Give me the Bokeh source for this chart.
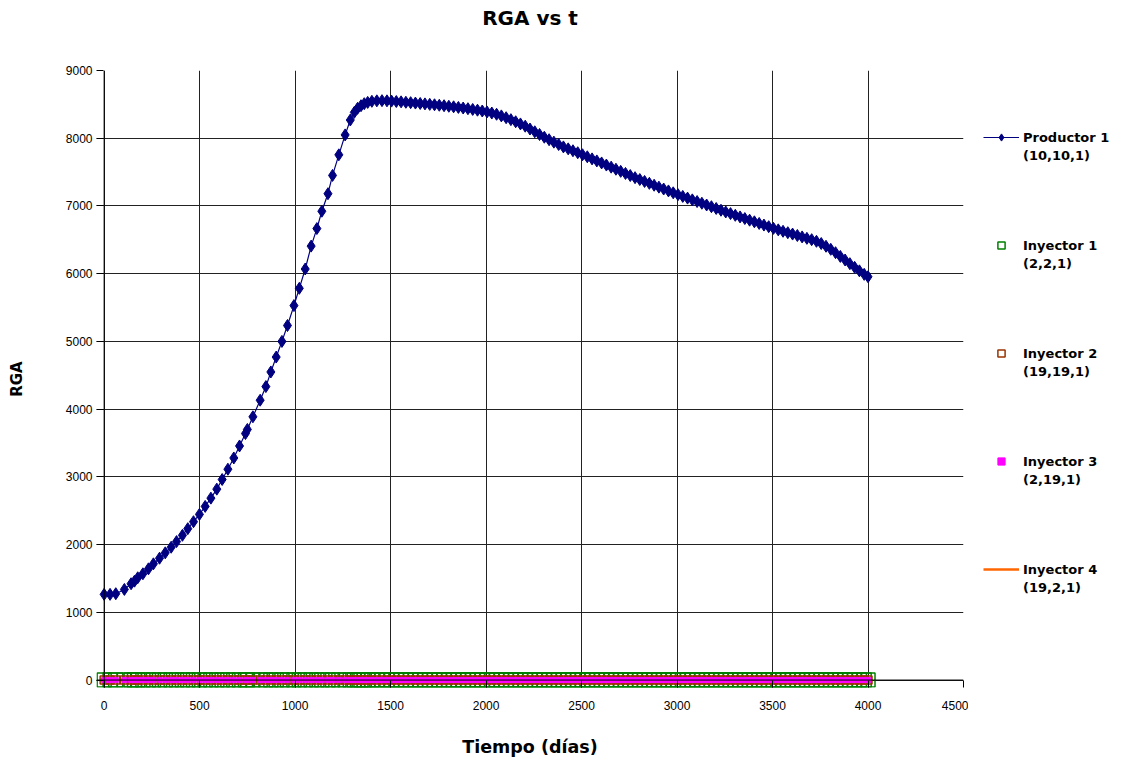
from bokeh.plotting import figure
from bokeh.models import Range1d, Span, Legend, LegendItem, FixedTicker, Title
from bokeh.layouts import row
from bokeh.embed import file_html
from bokeh.resources import INLINE

# ---- data ----
t = [0, 31, 61, 106, 141, 159, 176, 203, 232, 258, 290, 320, 351, 379, 410, 438, 468, 499,
     529, 559, 590, 618, 648, 679, 709, 740, 750, 779, 817, 847, 873, 901, 931, 960, 994,
     1022, 1053, 1084, 1114, 1140, 1172, 1196, 1229, 1262, 1289, 1310, 1327, 1345, 1362,
     1380, 1402, 1428, 1455, 1481, 1505, 1530, 1555, 1580, 1605, 1630, 1655, 1680, 1705,
     1730, 1755, 1780, 1805, 1830, 1855, 1880, 1905, 1930, 1955, 1980, 2005, 2030, 2055,
     2080, 2105, 2130, 2155, 2180, 2205, 2230, 2255, 2280, 2305, 2330, 2355, 2380, 2405,
     2430, 2455, 2480, 2505, 2530, 2555, 2580, 2605, 2630, 2655, 2680, 2705, 2730, 2755,
     2780, 2805, 2830, 2855, 2880, 2905, 2930, 2955, 2980, 3005, 3030, 3055, 3080, 3105,
     3130, 3155, 3180, 3205, 3230, 3255, 3280, 3305, 3330, 3355, 3380, 3405, 3430, 3455,
     3480, 3505, 3530, 3555, 3580, 3605, 3630, 3655, 3680, 3705, 3730, 3755, 3780, 3805,
     3830, 3855, 3880, 3905, 3930, 3955, 3980, 4000]
rga_prod1 = [1265, 1265, 1275, 1338, 1422, 1460, 1510, 1569, 1642, 1716, 1799, 1878, 1961,
             2044, 2137, 2235, 2338, 2446, 2564, 2686, 2819, 2961, 3113, 3279, 3456, 3640,
             3700, 3887, 4132, 4333, 4549, 4769, 5000, 5235, 5529, 5784, 6069, 6407, 6666,
             6922, 7181, 7451, 7755, 8049, 8269, 8382, 8441, 8480, 8510, 8529, 8545, 8552,
             8555, 8552, 8548, 8542, 8537, 8531, 8525, 8519, 8513, 8507, 8500, 8494, 8487,
             8480, 8472, 8464, 8455, 8446, 8436, 8425, 8414, 8402, 8388, 8372, 8354, 8330,
             8303, 8274, 8243, 8211, 8178, 8136, 8095, 8055, 8015, 7978, 7942, 7907, 7872,
             7843, 7815, 7786, 7756, 7726, 7695, 7665, 7635, 7604, 7573, 7542, 7511, 7480,
             7449, 7418, 7390, 7362, 7334, 7306, 7278, 7250, 7222, 7194, 7167, 7141, 7116,
             7090, 7065, 7040, 7014, 6989, 6963, 6937, 6911, 6887, 6862, 6838, 6814, 6790,
             6766, 6742, 6718, 6694, 6669, 6647, 6626, 6605, 6585, 6564, 6543, 6522, 6502,
             6478, 6445, 6405, 6360, 6310, 6255, 6202, 6148, 6094, 6042, 5990, 5955]
rga_iny1 = [0] * len(t)
rga_iny2 = [0] * len(t)
rga_iny3 = [0] * len(t)
rga_iny4 = [0] * len(t)

x_ticks = [0, 500, 1000, 1500, 2000, 2500, 3000, 3500, 4000, 4500]
y_ticks = [0, 1000, 2000, 3000, 4000, 5000, 6000, 7000, 8000, 9000]

names = ["Productor 1", "Inyector 1", "Inyector 2", "Inyector 3", "Inyector 4"]
cells = ["(10,10,1)", "(2,2,1)", "(19,19,1)", "(2,19,1)", "(19,2,1)"]

BOLD_FONT = "DejaVu Sans"
TICK_FONT = "Liberation Sans"

# styles
PROD = "#000080"
INY1 = dict(marker="square", fill_color=None, line_color="#008000", line_width=1.5)
INY2 = dict(marker="square", size=8, fill_color=None, line_color="#993300", line_width=1.5)
INY3 = dict(marker="square", size=5, fill_color="#FF00FF", line_color="#FF00FF")
INY4 = dict(line_color="#FF6600", line_width=2.5)

H = 760
p = figure(width=968, height=H, output_backend="svg", toolbar_location=None,
           x_range=Range1d(-40, 4500), y_range=Range1d(-110, 9000),
           min_border_left=96, min_border_top=68, min_border_right=5,
           min_border_bottom=73)
p.outline_line_color = None
p.background_fill_color = "white"
p.title.text = ""
p.title.standoff = 0
p.title.text_font_size = "1px"

# spacer title (closest to the plot) and the real title above it
p.add_layout(Title(text=" ", text_font=BOLD_FONT, text_font_size="20px",
                   text_font_style="bold", standoff=8, vertical_align="top"), "above")
p.add_layout(Title(text="RGA vs t", text_font=BOLD_FONT, text_font_size="20px",
                   text_font_style="bold", text_color="black", align="center",
                   standoff=10, vertical_align="top"), "above")

for ax in (p.xaxis[0], p.yaxis[0]):
    ax.axis_line_color = None
    ax.major_tick_in = 7
    ax.major_tick_out = 0
    ax.minor_tick_line_color = None
    ax.major_tick_line_color = "black"
    ax.major_label_text_font = TICK_FONT
    ax.major_label_text_font_size = "12px"
    ax.major_label_text_color = "black"
    ax.axis_label_text_font = BOLD_FONT
    ax.axis_label_text_font_style = "bold"
    ax.axis_label_text_color = "black"

p.xaxis[0].axis_label_text_font_size = "17.5px"
p.yaxis[0].axis_label_text_font_size = "15px"
p.xaxis[0].ticker = FixedTicker(ticks=x_ticks)
p.yaxis[0].ticker = FixedTicker(ticks=y_ticks)
p.xaxis[0].axis_label = "Tiempo (días)"
p.yaxis[0].axis_label = "RGA"
p.xaxis[0].major_label_standoff = 13
p.yaxis[0].major_label_standoff = 4
p.xaxis[0].axis_label_standoff = 24
p.yaxis[0].axis_label_standoff = 37

p.xgrid[0].grid_line_color = "#222222"
p.ygrid[0].grid_line_color = "#222222"
p.xgrid[0].grid_line_width = 1
p.ygrid[0].grid_line_width = 1

p.add_layout(Span(location=0, dimension="width", line_color="black", line_width=1))
p.add_layout(Span(location=0, dimension="height", line_color="black", line_width=1))

p.line(t, rga_iny4, **INY4)
p.scatter(t, rga_iny1, size=14, **INY1)
p.scatter(t, rga_iny2, **INY2)
p.scatter(t, rga_iny3, **INY3)
p.line(t, rga_prod1, line_color=PROD, line_width=1.2)
p.scatter(t, rga_prod1, marker="diamond", size=12, fill_color=PROD, line_color=PROD)

# ---- legend panel (separate figure on the right; its ranges keep the data out of view,
#      the renderers only serve as legend keys) ----
lg = figure(width=150, height=H, output_backend="svg", toolbar_location=None,
            x_range=Range1d(-20000, -10000), y_range=Range1d(-20000, -10000),
            x_axis_type=None, y_axis_type=None,
            min_border_left=0, min_border_right=0, min_border_top=0, min_border_bottom=0)
lg.outline_line_color = None
lg.xgrid.visible = False
lg.ygrid.visible = False
lg.title.text = ""
lg.title.standoff = 0
lg.title.text_font_size = "1px"

k_line = lg.line(t, rga_prod1, line_color=PROD, line_width=1.2)
k_diam = lg.scatter(t, rga_prod1, marker="diamond", size=10, fill_color=PROD, line_color=PROD)
k1 = lg.scatter(t, rga_iny1, size=11, **INY1)
k2 = lg.scatter(t, rga_iny2, **INY2)
k3 = lg.scatter(t, rga_iny3, **INY3)
k4 = lg.line(t, rga_iny4, **INY4)

series_renderers = [[k_line, k_diam], [k1], [k2], [k3], [k4]]
items = []
for i, (nm, cell, rs) in enumerate(zip(names, cells, series_renderers)):
    items.append(LegendItem(label=nm, renderers=rs))
    items.append(LegendItem(label=cell, renderers=[]))
    if i < len(names) - 1:
        for _ in range(4):
            items.append(LegendItem(label=" ", renderers=[]))

legend = Legend(items=items, location=(15, 91))
legend.label_text_font = BOLD_FONT
legend.label_text_font_size = "13px"
legend.label_text_font_style = "bold"
legend.label_text_color = "black"
legend.border_line_color = None
legend.background_fill_alpha = 0
legend.glyph_width = 36
legend.glyph_height = 18
legend.label_height = 18
legend.label_standoff = 4
legend.spacing = 0
legend.padding = 0
legend.margin = 0
lg.add_layout(legend)

layout = row(p, lg, spacing=0)
open("out.html", "w").write(file_html(layout, INLINE))
